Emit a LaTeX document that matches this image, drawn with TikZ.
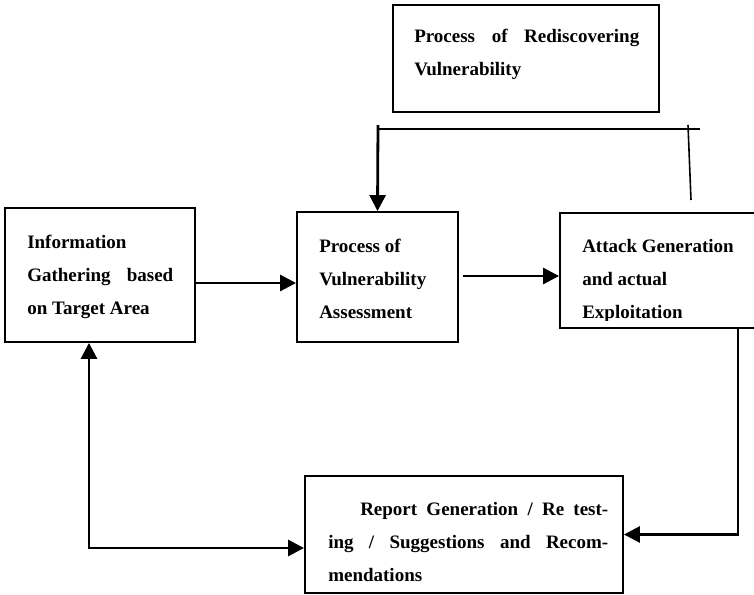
\documentclass[tikz,border=0pt]{standalone}
\usepackage{fontspec}
\setmainfont{Liberation Serif}
\usetikzlibrary{arrows.meta,calc}
\begin{document}
\begin{tikzpicture}[x=0.75pt,y=-0.75pt,
  box/.style 2 args={draw,line width=1.4pt,inner sep=0pt,
    minimum width=#1*0.75pt,minimum height=#2*0.75pt},
  % placed at the baseline of the last line
  txt/.style={anchor=base west,inner sep=0pt,align=left,
    font=\fontsize{14.25}{24.75}\selectfont\bfseries},
  arr/.style={line width=2.1pt,-{Triangle[length=12pt,width=12pt]}},
  link/.style={line width=1.2pt}
]
\useasboundingbox (0,0) rectangle (754,594);

% boxes
\node[box={266}{107}] (top) at (526,58.5) {};
\node[box={190}{134}] (b1) at (100,275) {};
\node[box={161}{130}] (b2) at (377.5,277) {};
\node[box={210}{115}] (b3) at (665,270.5) {};
\node[box={318}{117}] (b4) at (464,534.5) {};

% box texts
\node[txt] (ttop) at (414,75)
  {\makebox[168.75pt][s]{Process of Rediscovering}\\Vulnerability};
\node[txt] (t1) at (27,314)
  {Information\\\makebox[109.5pt][s]{Gathering based}\\on Target Area};
\node[txt] (t2) at (319,318) {Process of\\Vulnerability\\Assessment};
\begin{scope}
  \clip (560,213) rectangle (754,320);
  \node[txt] (t3) at (582,318) {Attack Generation\\and actual\\Exploitation};
\end{scope}
\node[txt] (t4) at (328,581)
  {\hspace*{24pt}\makebox[186pt][s]{Report Generation / Re test-}\\
   \makebox[210pt][s]{ing / Suggestions and Recom-}\\mendations};

% feedback bar above the middle boxes
\coordinate (barL) at (377,129);
\coordinate (barR) at (700,129);
\coordinate (dropL) at (378,125);
\coordinate (riseT) at (688,125);
\coordinate (riseB) at (691,200);
\draw[link] (barL) -- (barR);
\draw[link] (riseT) -- (riseB);
\draw[arr] (dropL) -- (b2.north);

% main flow
\coordinate (a12) at (195,283);
\coordinate (a23) at (463,276);
\draw[arr] (a12) -- (a12 -| b2.west);
\draw[arr] (a23) -- (a23 -| b3.west);

% from exploitation down to the report
\coordinate (down) at (738,328);
\draw[arr] (down) |- (b4.east);

% from the report back to information gathering
\coordinate (back) at (89,548);
\draw[line width=2.1pt,{Triangle[length=12pt,width=12pt]}-{Triangle[length=12pt,width=12pt]}]
  (b1.south -| back) -- (back) -- (back -| b4.west);
\end{tikzpicture}
\end{document}
